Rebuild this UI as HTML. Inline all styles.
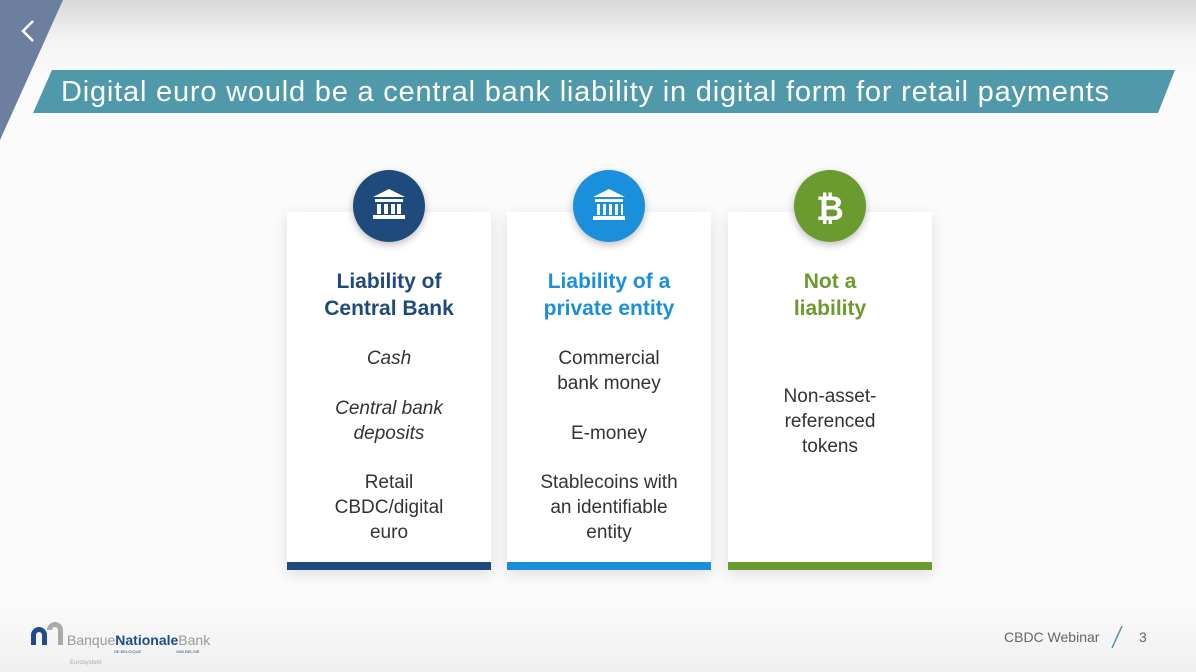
<!DOCTYPE html>
<html><head><meta charset="utf-8"><style>
body{margin:0;width:1196px;height:672px;overflow:hidden;font-family:"Liberation Sans",sans-serif;background:linear-gradient(#d8d8d8 0px,#f4f4f4 40px,#fbfbfb 80px,#fbfbfb 600px,#f0f0f0 672px);position:relative}
.card{position:absolute;top:212px;width:204px;height:358px;background:#fff;box-shadow:0 4px 14px rgba(0,0,0,0.12);text-align:center}
.card .bar{position:absolute;left:0;right:0;bottom:0;height:8px}
.circ{position:absolute;width:72px;height:72px;border-radius:50%;top:170px;box-shadow:0 3px 8px rgba(0,0,0,0.25)}
.h{position:absolute;left:0;right:0;top:56px;font-weight:bold;font-size:21px;line-height:27px}
.t{position:absolute;left:0;right:0;font-size:19px;line-height:25px;color:#333}
</style></head><body>
<svg width="1196" height="672" style="position:absolute;left:0;top:0">
<polygon points="5,0 63,0 0,140 0,0" fill="#6d7f9f"/>
<polyline points="33,21 23,31 33,41" fill="none" stroke="#fff" stroke-width="2.5"/>
<polygon points="52,70 1175,70 1158,113 33,113" fill="#4f99aa"/>
<text x="61" y="101" font-family="Liberation Sans, sans-serif" font-size="29" fill="#fff" textLength="1048" lengthAdjust="spacing">Digital euro would be a central bank liability in digital form for retail payments</text>
<path d="M31,645 v-10 a8,8 0 0 1 16,0 v10 h-5 v-10 a3,3 0 0 0 -6,0 v10z" fill="#1e4b8c"/>
<path d="M47,630 a8,8 0 0 1 16,0 v15 h-5 v-15 a3,3 0 0 0 -6,0z" fill="#aaa"/>
<text x="67" y="645" font-family="Liberation Sans, sans-serif" font-size="14" fill="#999">Banque<tspan fill="#1e4b8c" font-weight="bold">Nationale</tspan>Bank</text>
<text x="114" y="653" font-size="4" fill="#1e4b8c" font-family="Liberation Sans">DE BELGIQUE</text>
<text x="176" y="653" font-size="4" fill="#1e4b8c" font-family="Liberation Sans">VAN BELGIË</text>
<text x="70" y="664" font-size="6" fill="#aaa" font-family="Liberation Sans">Eurosystem</text>
<text x="1004" y="642" font-size="14" fill="#666" font-family="Liberation Sans">CBDC Webinar</text>
<line x1="1112" y1="648" x2="1122" y2="626" stroke="#5a8fb0" stroke-width="1.5"/>
<text x="1139" y="642" font-size="14" fill="#666" font-family="Liberation Sans">3</text>
</svg>
<div class="card" style="left:287px"><div class="h" style="color:#1f4a7c">Liability of<br>Central Bank</div>
<div class="t" style="top:134px;font-style:italic">Cash</div>
<div class="t" style="top:184px;font-style:italic">Central bank<br>deposits</div>
<div class="t" style="top:258px">Retail<br>CBDC/digital<br>euro</div>
<div class="bar" style="background:#1f4a7c"></div></div>
<div class="card" style="left:507px"><div class="h" style="color:#1a8fdc">Liability of a<br>private entity</div>
<div class="t" style="top:134px">Commercial<br>bank money</div>
<div class="t" style="top:209px">E-money</div>
<div class="t" style="top:258px">Stablecoins with<br>an identifiable<br>entity</div>
<div class="bar" style="background:#1a8fdc"></div></div>
<div class="card" style="left:728px"><div class="h" style="color:#6b9a2e">Not a<br>liability</div>
<div class="t" style="top:172px">Non-asset-<br>referenced<br>tokens</div>
<div class="bar" style="background:#6b9a2e"></div></div>
<div class="circ" style="left:353px;background:#1f4a7c"></div>
<div class="circ" style="left:573px;background:#1a8fdc"></div>
<div class="circ" style="left:794px;background:#6b9a2e"></div>
<svg width="1196" height="672" style="position:absolute;left:0;top:0">
<g fill="#fff"><polygon points="389,189 373,197 405,197"/><rect x="375" y="199" width="28" height="3"/><rect x="377" y="204" width="4" height="10"/><rect x="384" y="204" width="4" height="10"/><rect x="391" y="204" width="4" height="10"/><rect x="397" y="204" width="4" height="10"/><rect x="373" y="215" width="32" height="4"/></g>
<g fill="#fff"><polygon points="609,189 593,197 625,197"/><rect x="595" y="199" width="28" height="3"/><rect x="597" y="204" width="3" height="11"/><rect x="603" y="204" width="3" height="11"/><rect x="609" y="204" width="3" height="11"/><rect x="615" y="204" width="3" height="11"/><rect x="621" y="204" width="2" height="11"/><rect x="593" y="216" width="32" height="4"/></g>
<text x="830" y="220" text-anchor="middle" font-size="34" font-weight="bold" fill="#fff" font-family="DejaVu Sans, sans-serif">₿</text>
</svg>
</body></html>
